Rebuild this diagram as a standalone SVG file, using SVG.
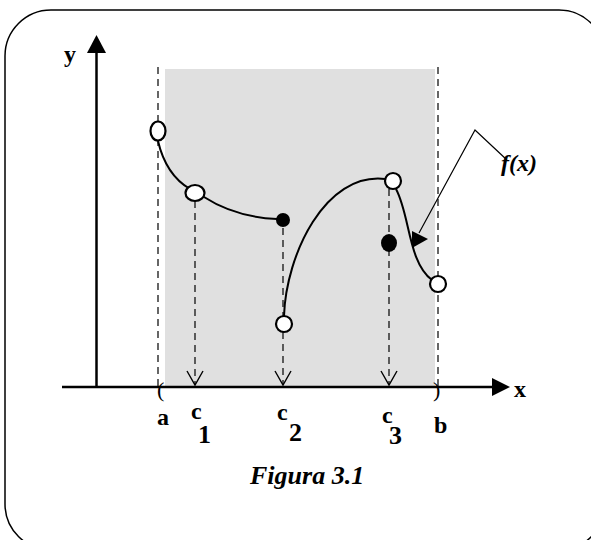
<svg xmlns="http://www.w3.org/2000/svg" width="591" height="540" viewBox="0 0 591 540">
<style>
.t{font-family:"Liberation Serif","Times New Roman",serif;font-weight:bold;fill:#000}
.it{font-style:italic}
.s24{font-size:24px}
.s26{font-size:26px}
.p{font-size:22px;font-weight:normal}
.dash{stroke:#000;stroke-width:1.2;stroke-dasharray:7,5;fill:none}
.curve{stroke:#000;stroke-width:2;fill:none}
.open{fill:#fff;stroke:#000;stroke-width:2.2}
.v{fill:none;stroke:#000;stroke-width:1.4}
</style>
<rect x="5" y="10" width="600" height="540" rx="46" ry="46" fill="#fff" stroke="#000" stroke-width="1.5"/>
<rect x="165" y="69" width="270" height="318" fill="#e0e0e0"/>
<g id="axes">
<line x1="96.5" y1="50" x2="96.5" y2="387" stroke="#000" stroke-width="2.5"/>
<polygon points="96.5,35 87,53 106,53" fill="#000"/>
<line x1="62" y1="387" x2="495" y2="387" stroke="#000" stroke-width="2.5"/>
<polygon points="510,387 492,378 492,396" fill="#000"/>
<text class="t s24" x="64" y="62">y</text>
<text class="t s24" x="514" y="397">x</text>
</g>
<g id="bounds">
<line class="dash" x1="158" y1="67" x2="158" y2="387"/>
<line class="dash" x1="438" y1="67" x2="438" y2="387"/>
<text class="t p" x="157" y="397">(</text>
<text class="t p" x="433" y="397">)</text>
<text class="t s24" x="157" y="425">a</text>
<text class="t s24" x="434" y="433">b</text>
</g>
<g id="connectors">
<line class="dash" x1="195" y1="201" x2="195" y2="384"/>
<polyline class="v" points="187,371 195,385 203,371"/>
<line class="dash" x1="283" y1="228" x2="283" y2="316"/>
<line class="dash" x1="283" y1="332" x2="283" y2="384"/>
<polyline class="v" points="275,371 283,385 291,371"/>
<line class="dash" x1="389" y1="189" x2="389" y2="384"/>
<polyline class="v" points="381,371 389,385 397,371"/>
<polyline points="507,160 475,130 419,233" fill="none" stroke="#000" stroke-width="1.2"/>
<polygon points="412,231 428,239 412,248" fill="#000"/>
</g>
<g id="curve">
<path class="curve" d="M158,141 Q166,175 190,189"/>
<path class="curve" d="M204,197 Q235,217 277,219"/>
<path class="curve" d="M284,316 C286,255 325,172 385,179"/>
<path class="curve" d="M396,189 C410,215 408,262 432,280"/>
</g>
<g id="points">
<ellipse class="open" cx="158" cy="131" rx="7.5" ry="9.5"/>
<ellipse class="open" cx="195" cy="193" rx="9.5" ry="8"/>
<circle cx="283" cy="220" r="7" fill="#000"/>
<circle class="open" cx="284" cy="324" r="8"/>
<circle class="open" cx="393" cy="181" r="8"/>
<ellipse cx="389" cy="243" rx="8" ry="9" fill="#000"/>
<circle class="open" cx="438" cy="284" r="8"/>
</g>
<g id="labels">
<text class="t s24" x="191" y="419">c</text>
<text class="t s26" x="198" y="443">1</text>
<text class="t s24" x="277" y="420">c</text>
<text class="t s26" x="289" y="441">2</text>
<text class="t s24" x="382" y="423">c</text>
<text class="t s26" x="389" y="444">3</text>
<text class="t it s24" x="501" y="171">f(x)</text>
<text class="t it s26" x="250" y="484">Figura 3.1</text>
</g>
</svg>
